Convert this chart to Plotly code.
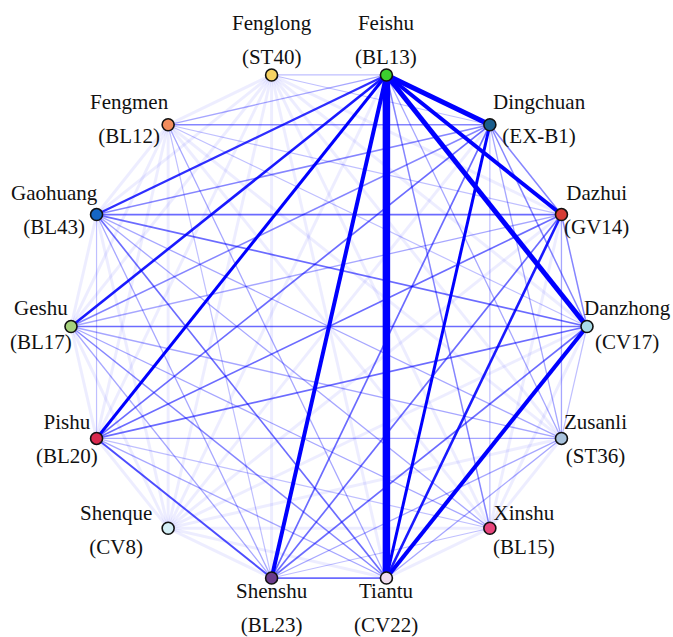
import numpy as np
import plotly.graph_objects as go

# ---- data ----
names = ["Feishu", "Dingchuan", "Dazhui", "Danzhong", "Zusanli", "Xinshu", "Tiantu",
         "Shenshu", "Shenque", "Pishu", "Geshu", "Gaohuang", "Fengmen", "Fenglong"]
codes = ["(BL13)", "(EX-B1)", "(GV14)", "(CV17)", "(ST36)", "(BL15)", "(CV22)",
         "(BL23)", "(CV8)", "(BL20)", "(BL17)", "(BL43)", "(BL12)", "(ST40)"]
node_colors = ["#3ccf2e", "#1b5e8c", "#d63c34", "#a9dce8", "#a8c2dc", "#e8457c", "#f0dcee",
               "#6b3b8c", "#d4eff6", "#d92a4e", "#a6d27c", "#1566c4", "#f28c5c", "#f6d262"]

# upper-triangle co-occurrence strength: row i lists weights to nodes i+1 .. 13
weights = [
    [8, 6, 8, 2, 2.5, 10, 6, 1, 5, 4.5, 4, 2, 1.5],   # Feishu
    [2.5, 2.5, 2, 1.5, 5, 3, 1, 3, 2.5, 2.5, 2.5, 1.5],  # Dingchuan
    [2.5, 2, 1, 4.5, 3, 1, 3, 2, 3, 1.5, 1],           # Dazhui
    [1.5, 1, 6, 3, 1, 3, 3, 3, 1.5, 1],                # Danzhong
    [1, 2, 2, 1, 2, 2, 2, 1, 1],                       # Zusanli
    [1, 1.5, 1, 1.5, 2, 2, 1, 1],                      # Xinshu
    [3, 1, 2, 2.5, 3, 2, 1],                           # Tiantu
    [1, 3.5, 2, 2, 1.5, 1],                            # Shenshu
    [1, 1, 1, 1, 1],                                   # Shenque
    [1, 1.5, 1, 1],                                    # Pishu
    [1, 1, 1],                                         # Geshu
    [1, 1],                                            # Gaohuang
    [1],                                               # Fengmen
]

# ---- layout helpers ----
n = len(names)
theta = (np.arange(n) + 0.5) * 2 * np.pi / n       # clockwise from top
xs = np.sin(theta)
ys = np.cos(theta)

w_pts = [1, 1.5, 2, 2.5, 3, 4, 4.5, 5, 6, 8, 10]
wid_pts = [3.0, 1.2, 1.3, 1.5, 1.7, 2.2, 2.6, 3.0, 4.0, 5.0, 7.5]
alp_pts = [0.07, 0.25, 0.35, 0.48, 0.58, 0.82, 0.9, 1, 1, 1, 1]

edges = []
for i, row in enumerate(weights):
    for k, w in enumerate(row):
        edges.append((w, i, i + 1 + k))
edges.sort(key=lambda e: e[0])

fig = go.Figure()
for w, a, b in edges:
    width = float(np.interp(w, w_pts, wid_pts))
    alpha = float(np.interp(w, w_pts, alp_pts))
    fig.add_trace(go.Scatter(
        x=[xs[a], xs[b]], y=[ys[a], ys[b]], mode="lines",
        line=dict(color=f"rgba(0,0,255,{alpha})", width=width),
        hoverinfo="skip", showlegend=False))

fig.add_trace(go.Scatter(
    x=xs, y=ys, mode="markers", text=names, hoverinfo="text", showlegend=False,
    marker=dict(size=12, color=node_colors, line=dict(color="#111111", width=1.6))))

for i in range(n):
    txt = (f"<span style='font-size:21px'>{names[i]}</span><br>"
           f"<span style='font-size:21px'>{codes[i]}</span>")
    s, c = xs[i], ys[i]
    if c > 0.95:        # top
        kw = dict(xanchor="center", yanchor="bottom", xshift=0, yshift=4)
    elif c < -0.95:     # bottom
        kw = dict(xanchor="center", yanchor="top", xshift=0, yshift=1)
    elif s > 0:
        kw = dict(xanchor="left", yanchor="middle",
                  xshift=(-5 if abs(c) < 0.2 else 1), yshift=2 + 5 * c)
    else:
        kw = dict(xanchor="right", yanchor="middle",
                  xshift=(-14 if c < -0.7 else 3), yshift=2 + 5 * c)
    fig.add_annotation(x=s, y=c, text=txt, showarrow=False, align="center",
                       font=dict(family="Liberation Serif", size=26, color="#111111"),
                       **kw)

R = 258.0
cx, cy = 329.0, 326.5   # centre in figure pixels
W, H = 673, 637
fig.update_layout(
    width=W, height=H, margin=dict(l=0, r=0, t=0, b=0),
    paper_bgcolor="white", plot_bgcolor="white",
    xaxis=dict(range=[-cx / R, (W - cx) / R], visible=False, fixedrange=True),
    yaxis=dict(range=[-(H - cy) / R, cy / R], visible=False, fixedrange=True),
)
fig.write_html("out.html", config={"displayModeBar": False},
               post_script="document.body.style.margin='0';document.body.style.overflow='hidden';")
